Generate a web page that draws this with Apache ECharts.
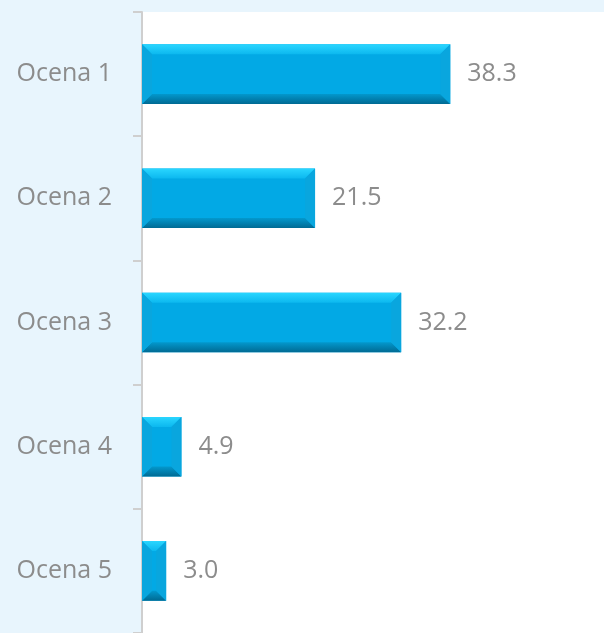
<!DOCTYPE html>
<html><head><meta charset="utf-8">
<script src="https://cdn.jsdelivr.net/npm/echarts@6/dist/echarts.min.js"></script>
<style>html,body{margin:0;padding:0;background:#e8f5fd}#c{width:604px;height:633px}</style>
</head><body><div id="c"></div>
<script>
const categories = ['Ocena 1', 'Ocena 2', 'Ocena 3', 'Ocena 4', 'Ocena 5'];
const values = [38.3, 21.5, 32.2, 4.9, 3.0];

const chart = echarts.init(document.getElementById('c'));
function renderItem(params, api) {
  const idx = api.value(0);
  const val = api.value(1);
  const p0 = api.coord([0, idx]);
  const p1 = api.coord([val, idx]);
  const band = api.size([0, 1])[1];
  const h = band * 0.48;
  const x0 = p0[0], x1 = p1[0];
  const y0 = p0[1] - h / 2, y1 = p0[1] + h / 2;
  const w = x1 - x0;
  const b = Math.min(10, w / 2, h / 2);
  const poly = (pts, fill) => ({ type: 'polygon', shape: { points: pts }, style: { fill: fill } });
  return {
    type: 'group',
    children: [
      { type: 'rect', shape: { x: x0, y: y0, width: w, height: h }, style: { fill: '#02a9e5' } },
      poly([[x0, y0], [x1, y0], [x1 - b, y0 + b], [x0 + b, y0 + b]],
        new echarts.graphic.LinearGradient(0, 0, 0, 1, [{offset: 0, color: '#2ad6ff'}, {offset: 1, color: '#0cb8ef'}])),
      poly([[x0, y1], [x1, y1], [x1 - b, y1 - b], [x0 + b, y1 - b]],
        new echarts.graphic.LinearGradient(0, 0, 0, 1, [{offset: 0, color: '#0398cd'}, {offset: 1, color: '#006a93'}])),
      poly([[x0, y0], [x0 + b, y0 + b], [x0 + b, y1 - b], [x0, y1]], '#09a6de'),
      poly([[x1, y0], [x1 - b, y0 + b], [x1 - b, y1 - b], [x1, y1]], '#09a6de'),
      { type: 'text', style: { text: val.toFixed(1), x: x1 + 17, y: p0[1], verticalAlign: 'middle', align: 'left',
        fill: '#8c8c8c', font: '25px "Open Sans", sans-serif' } }
    ]
  };
}
chart.setOption({
  backgroundColor: '#e8f5fd',
  animation: false,
  grid: { left: 142, top: 12, right: 0, height: 625, show: true, backgroundColor: '#ffffff', borderWidth: 0 },
  xAxis: { type: 'value', min: 0, max: 57.4, show: false },
  yAxis: {
    type: 'category', data: categories, inverse: true,
    axisLine: { show: true, lineStyle: { color: '#cfcfcf', width: 2 } },
    axisTick: { show: true, length: 9, interval: 0, lineStyle: { color: '#cfcfcf', width: 2 } },
    axisLabel: { margin: 30, color: '#8c8c8c', fontSize: 25, fontFamily: 'Open Sans' },
    splitLine: { show: false }
  },
  series: [{
    type: 'custom', renderItem: renderItem, clip: false,
    encode: { x: 1, y: 0 },
    data: values.map((v, i) => [i, v])
  }]
});
</script></body></html>
